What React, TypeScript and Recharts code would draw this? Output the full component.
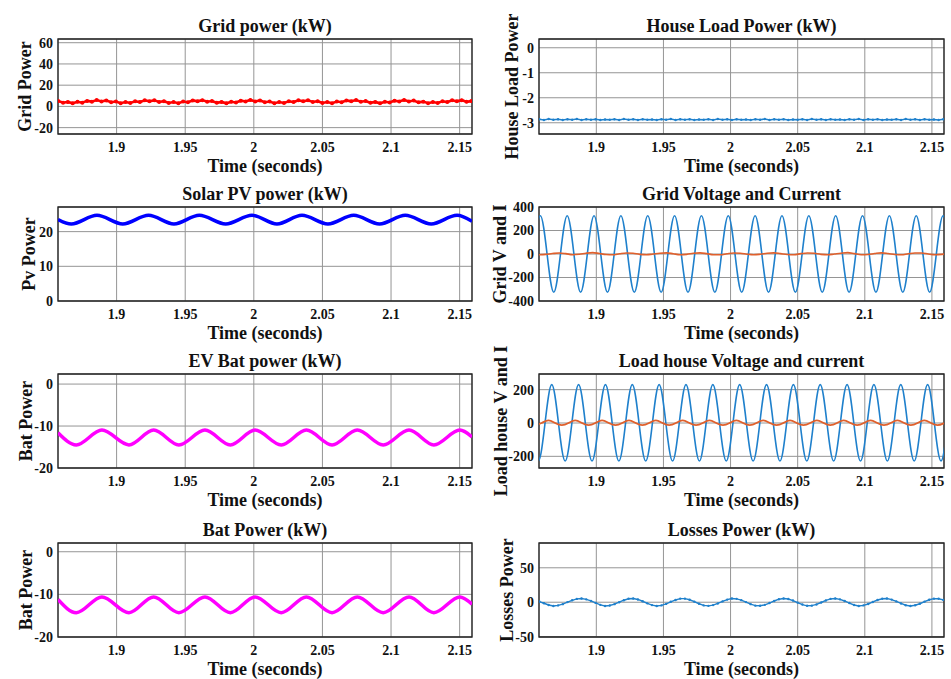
import React from 'react';
import { LineChart, Line, XAxis, YAxis, CartesianGrid, ReferenceArea, Label } from 'recharts';

const FONT = '"Liberation Serif", "Times New Roman", serif';
const X_DOMAIN: [number, number] = [1.8573, 2.159];
const timeTicks = [1.9, 1.95, 2, 2.05, 2.1, 2.15];

// sampled (ripple) series: sample instants start + step
const RIPPLE_T0 = 1.8575;
const RIPPLE_DT = 0.0035;

const gridPower = [5.0,3.5,4.2,2.9,4.3,3.5,5.2,4.5,6.0,4.7,5.6,3.9,4.6,3.0,4.1,3.2,4.8,4.1,5.8,4.8,5.8,4.2,4.9,3.2,4.1,3.0,4.6,3.9,5.6,4.8,5.9,4.4,5.1,3.4,4.2,2.9,4.4,3.7,5.4,4.6,6.1,4.7,5.6,3.9,4.6,3.0,4.1,3.2,4.8,4.1,5.8,4.8,5.8,4.2,4.9,3.2,4.1,3.0,4.6,3.9,5.6,4.8,6.0,4.4,5.1,3.4,4.2,2.9,4.4,3.7,5.4,4.6,6.1,4.7,5.5,3.8,4.5,3.0,4.1,3.2,4.8,4.1,5.8,4.8,5.9,4.3,5.0];

const houseLoadPower = [-2.86,-2.89,-2.85,-2.88,-2.86,-2.89,-2.86,-2.88,-2.85,-2.89,-2.86,-2.88,-2.86,-2.89,-2.87,-2.88,-2.86,-2.89,-2.85,-2.88,-2.86,-2.89,-2.86,-2.88,-2.87,-2.89,-2.86,-2.88,-2.85,-2.89,-2.86,-2.88,-2.86,-2.89,-2.87,-2.88,-2.86,-2.89,-2.85,-2.88,-2.86,-2.89,-2.86,-2.88,-2.87,-2.89,-2.86,-2.88,-2.85,-2.89,-2.86,-2.88,-2.86,-2.89,-2.87,-2.88,-2.86,-2.89,-2.85,-2.88,-2.86,-2.89,-2.86,-2.88,-2.87,-2.89,-2.86,-2.88,-2.85,-2.89,-2.86,-2.88,-2.86,-2.89,-2.87,-2.88,-2.86,-2.89,-2.85,-2.88,-2.86,-2.89,-2.86,-2.88,-2.87,-2.89,-2.86];

const lossesPower = [1.0,-1.5,-4.0,-5.4,-4.6,-2.8,0.2,2.8,4.8,5.4,4.2,2.0,-1.0,-3.8,-5.4,-4.8,-2.8,0.0,2.9,5.0,5.3,4.0,1.4,-1.6,-4.2,-5.4,-4.6,-2.4,0.6,3.3,5.2,5.2,3.6,0.8,-2.2,-4.6,-5.3,-4.2,-1.8,1.2,3.8,5.4,4.9,3.0,0.2,-2.8,-5.0,-5.2,-3.8,-1.2,1.8,4.4,5.4,4.6,2.4,-0.6,-3.4,-5.2,-5.0,-3.2,-0.4,2.6,4.8,5.4,4.2,1.8,-1.2,-4.0,-5.4,-4.6,-2.6,0.4,3.2,5.0,5.3,3.8,1.2,-1.8,-4.4,-5.4,-4.4,-2.2,0.8,3.6,5.2,5.1,3.4];

const pvPower: [number, number][] = [[1.8573,23.5],[1.867,22.2],[1.8857,24.7],[1.9045,22.2],[1.9233,24.7],[1.9418,22.2],[1.9603,24.7],[1.9795,22.2],[1.9987,24.7],[2.0169,22.2],[2.0351,24.7],[2.054,22.2],[2.0728,24.7],[2.0916,22.2],[2.1104,24.7],[2.1293,22.2],[2.1481,24.7],[2.159,23.0]];

const evBatPower: [number, number][] = [[1.8573,-11.6],[1.8706,-14.5],[1.8893,-10.95],[1.909,-14.5],[1.927,-10.95],[1.9454,-14.5],[1.9644,-10.95],[1.9829,-14.5],[2.0009,-10.95],[2.02,-14.5],[2.0383,-10.95],[2.057,-14.5],[2.0754,-10.95],[2.0943,-14.5],[2.1131,-10.95],[2.1312,-14.5],[2.1502,-10.95],[2.159,-12.6]];

const batPower: [number, number][] = [[1.8573,-11.2],[1.8706,-14.3],[1.8893,-10.6],[1.909,-14.3],[1.927,-10.6],[1.9454,-14.3],[1.9644,-10.6],[1.9829,-14.3],[2.0009,-10.6],[2.02,-14.3],[2.0383,-10.6],[2.057,-14.3],[2.0754,-10.6],[2.0943,-14.3],[2.1131,-10.6],[2.1312,-14.3],[2.1502,-10.6],[2.159,-12.3]];

const gridVoltage: [number, number][] = [[1.8533,0],[1.8583,325],[1.8633,0],[1.8683,-325],[1.8733,0],[1.8783,325],[1.8833,0],[1.8883,-325],[1.8933,0],[1.8983,325],[1.9033,0],[1.9083,-325],[1.9133,0],[1.9183,325],[1.9233,0],[1.9283,-325],[1.9333,0],[1.9383,325],[1.9433,0],[1.9483,-325],[1.9533,0],[1.9583,325],[1.9633,0],[1.9683,-325],[1.9733,0],[1.9783,325],[1.9833,0],[1.9883,-325],[1.9933,0],[1.9983,325],[2.0033,0],[2.0083,-325],[2.0133,0],[2.0183,325],[2.0233,0],[2.0283,-325],[2.0333,0],[2.0383,325],[2.0433,0],[2.0483,-325],[2.0533,0],[2.0583,325],[2.0633,0],[2.0683,-325],[2.0733,0],[2.0783,325],[2.0833,0],[2.0883,-325],[2.0933,0],[2.0983,325],[2.1033,0],[2.1083,-325],[2.1133,0],[2.1183,325],[2.1233,0],[2.1283,-325],[2.1333,0],[2.1383,325],[2.1433,0],[2.1483,-325],[2.1533,0],[2.1583,325],[2.1633,0]];

const gridCurrent: [number, number][] = [[1.8573,-7],[1.8623,-3],[1.8673,4],[1.8723,9],[1.8773,3],[1.8823,-6],[1.8873,-2],[1.8923,7],[1.8973,12],[1.9023,4],[1.9073,-4],[1.9123,-7],[1.9173,2],[1.9223,9],[1.9273,6],[1.9323,-3],[1.9373,-7],[1.9423,0],[1.9473,7],[1.9523,10],[1.9573,2],[1.9623,-6],[1.9673,-3],[1.9723,6],[1.9773,10],[1.9823,3],[1.9873,-6],[1.9923,-7],[1.9973,2],[2.0023,9],[2.0073,7],[2.0123,-2],[2.0173,-7],[2.0223,-2],[2.0273,6],[2.0323,10],[2.0373,3],[2.0423,-4],[2.0473,-6],[2.0523,3],[2.0573,9],[2.0623,6],[2.0673,-3],[2.0723,-7],[2.0773,0],[2.0823,7],[2.0873,12],[2.0923,3],[2.0973,-6],[2.1023,-4],[2.1073,4],[2.1123,10],[2.1173,4],[2.1223,-4],[2.1273,-7],[2.1323,2],[2.1373,9],[2.1423,9],[2.1473,0],[2.1523,-6],[2.1573,-3],[2.1623,3]];

const loadVoltage: [number, number][] = [[1.8518,0],[1.8568,-228],[1.8618,0],[1.8668,230],[1.8718,0],[1.8768,-228],[1.8818,0],[1.8868,230],[1.8918,0],[1.8968,-228],[1.9018,0],[1.9068,230],[1.9118,0],[1.9168,-228],[1.9218,0],[1.9268,230],[1.9318,0],[1.9368,-228],[1.9418,0],[1.9468,230],[1.9518,0],[1.9568,-228],[1.9618,0],[1.9668,230],[1.9718,0],[1.9768,-228],[1.9818,0],[1.9868,230],[1.9918,0],[1.9968,-228],[2.0018,0],[2.0068,230],[2.0118,0],[2.0168,-228],[2.0218,0],[2.0268,230],[2.0318,0],[2.0368,-228],[2.0418,0],[2.0468,230],[2.0518,0],[2.0568,-228],[2.0618,0],[2.0668,230],[2.0718,0],[2.0768,-228],[2.0818,0],[2.0868,230],[2.0918,0],[2.0968,-228],[2.1018,0],[2.1068,230],[2.1118,0],[2.1168,-228],[2.1218,0],[2.1268,230],[2.1318,0],[2.1368,-228],[2.1418,0],[2.1468,230],[2.1518,0],[2.1568,-228],[2.1618,0]];

const loadCurrent: [number, number][] = [[1.8543,-13],[1.8593,0],[1.8643,16],[1.8693,0],[1.8743,-13],[1.8793,0],[1.8843,16],[1.8893,0],[1.8943,-13],[1.8993,0],[1.9043,16],[1.9093,0],[1.9143,-13],[1.9193,0],[1.9243,16],[1.9293,0],[1.9343,-13],[1.9393,0],[1.9443,16],[1.9493,0],[1.9543,-13],[1.9593,0],[1.9643,16],[1.9693,0],[1.9743,-13],[1.9793,0],[1.9843,16],[1.9893,0],[1.9943,-13],[1.9993,0],[2.0043,16],[2.0093,0],[2.0143,-13],[2.0193,0],[2.0243,16],[2.0293,0],[2.0343,-13],[2.0393,0],[2.0443,16],[2.0493,0],[2.0543,-13],[2.0593,0],[2.0643,16],[2.0693,0],[2.0743,-13],[2.0793,0],[2.0843,16],[2.0893,0],[2.0943,-13],[2.0993,0],[2.1043,16],[2.1093,0],[2.1143,-13],[2.1193,0],[2.1243,16],[2.1293,0],[2.1343,-13],[2.1393,0],[2.1443,16],[2.1493,0],[2.1543,-13],[2.1593,0],[2.1643,16]];

const BLUE = '#1f80cc';
const ORANGE = '#e0602c';

type Pt = { t: number; v: number };
const fromPairs = (a: [number, number][]): Pt[] => a.map(([t, v]) => ({ t, v }));
const fromSamples = (a: number[]): Pt[] => a.map((v, i) => ({ t: RIPPLE_T0 + i * RIPPLE_DT, v }));

type Series = { data: Pt[]; color: string; width: number; curve: 'linear' | 'monotone' | 'natural'; dot?: number };

type PanelProps = {
  col: 0 | 1;
  top: number;
  bottom: number;
  title: string;
  yLabel: string;
  yLabelBaseline: number;
  yDomain: [number, number];
  yTicks: number[];
  series: Series[];
};

const textStyle = { fontFamily: FONT, fontWeight: 700 as const, fill: '#111' };

function Panel({ col, top, bottom, title, yLabel, yLabelBaseline, yDomain, yTicks, series }: PanelProps) {
  const colLeft = col === 0 ? 0 : 475;
  const plotLeft = col === 0 ? 58 : 539;
  const plotRight = col === 0 ? 472 : 944;
  const width = col === 0 ? 480 : 476;
  const MT = 40;
  const XH = 50;
  const plotH = bottom - top;
  const plotW = plotRight - plotLeft;
  const height = plotH + MT + XH;
  const yAxisW = plotLeft - colLeft;
  const cx = yAxisW + plotW / 2;
  const ly = MT + plotH / 2;
  const lx = yLabelBaseline - colLeft;
  return (
    <div style={{ position: 'absolute', left: colLeft, top: top - MT }}>
      <LineChart width={width} height={height} margin={{ top: MT, right: width - (plotRight - colLeft), bottom: 0, left: 0 }}>
        <CartesianGrid stroke="#959595" strokeWidth={1} />
        <XAxis
          type="number"
          dataKey="t"
          domain={X_DOMAIN}
          ticks={timeTicks}
          allowDataOverflow
          interval={0}
          height={XH}
          tickSize={0}
          tickMargin={8}
          axisLine={false}
          tickLine={false}
          tick={{ ...textStyle, fontSize: 14 }}
        >
          <Label
            content={() => (
              <g>
                <text x={cx} y={MT + plotH + 38} textAnchor="middle" style={{ ...textStyle, fontSize: 18 }} fill="#111">
                  Time (seconds)
                </text>
                <text x={cx} y={MT - 7.5} textAnchor="middle" style={{ ...textStyle, fontSize: 18 }} fill="#111">
                  {title}
                </text>
              </g>
            )}
          />
        </XAxis>
        <YAxis
          type="number"
          domain={yDomain}
          ticks={yTicks}
          allowDataOverflow
          interval={0}
          width={yAxisW}
          tickSize={0}
          tickMargin={5}
          axisLine={false}
          tickLine={false}
          tick={{ ...textStyle, fontSize: 14 }}
        >
          <Label
            content={() => (
              <text
                x={lx}
                y={ly}
                transform={`rotate(-90 ${lx} ${ly})`}
                textAnchor="middle"
                style={{ ...textStyle, fontSize: 18 }}
                fill="#111"
              >
                {yLabel}
              </text>
            )}
          />
        </YAxis>
        {series.map((s, i) => (
          <Line
            key={i}
            data={s.data}
            dataKey="v"
            type={s.curve}
            stroke={s.color}
            strokeWidth={s.width}
            dot={s.dot ? { r: s.dot, fill: s.color, stroke: 'none' } : false}
            activeDot={false}
            isAnimationActive={false}
          />
        ))}
        <ReferenceArea
          x1={X_DOMAIN[0]}
          x2={X_DOMAIN[1]}
          y1={yDomain[0]}
          y2={yDomain[1]}
          fill="none"
          fillOpacity={0}
          stroke="#222"
          strokeWidth={1.3}
          ifOverflow="visible"
        />
      </LineChart>
    </div>
  );
}

export default function App() {
  return (
    <div style={{ position: 'absolute', left: 0, top: 0, width: 951, height: 679, background: '#fff', overflow: 'hidden' }}>
      <Panel col={0} top={39} bottom={134} title="Grid power (kW)" yLabel="Grid Power" yLabelBaseline={30.5}
        yDomain={[-26, 63.5]} yTicks={[-20, 0, 20, 40, 60]}
        series={[{ data: fromSamples(gridPower), color: '#ff0000', width: 2.6, curve: 'linear', dot: 2 }]} />
      <Panel col={1} top={39} bottom={134} title="House Load Power (kW)" yLabel="House Load Power" yLabelBaseline={518}
        yDomain={[-3.45, 0.35]} yTicks={[-3, -2, -1, 0]}
        series={[{ data: fromSamples(houseLoadPower), color: BLUE, width: 1.6, curve: 'linear', dot: 1.2 }]} />
      <Panel col={0} top={207} bottom={301} title="Solar PV power (kW)" yLabel="Pv Power" yLabelBaseline={35}
        yDomain={[0, 27.1]} yTicks={[0, 10, 20]}
        series={[{ data: fromPairs(pvPower), color: '#0000ff', width: 3.5, curve: 'monotone' }]} />
      <Panel col={1} top={207} bottom={301} title="Grid Voltage and Current" yLabel="Grid V and I" yLabelBaseline={505.7}
        yDomain={[-400, 400]} yTicks={[-400, -200, 0, 200, 400]}
        series={[
          { data: fromPairs(gridVoltage), color: BLUE, width: 1.6, curve: 'natural' },
          { data: fromPairs(gridCurrent), color: ORANGE, width: 1.6, curve: 'monotone' },
        ]} />
      <Panel col={0} top={374} bottom={468} title="EV Bat power (kW)" yLabel="Bat Power" yLabelBaseline={31.7}
        yDomain={[-20, 2.4]} yTicks={[-20, -10, 0]}
        series={[{ data: fromPairs(evBatPower), color: '#ff00ff', width: 3.5, curve: 'monotone' }]} />
      <Panel col={1} top={374} bottom={468} title="Load house Voltage and current" yLabel="Load house V and I" yLabelBaseline={506.7}
        yDomain={[-270, 294]} yTicks={[-200, 0, 200]}
        series={[
          { data: fromPairs(loadVoltage), color: BLUE, width: 1.6, curve: 'natural' },
          { data: fromPairs(loadCurrent), color: ORANGE, width: 1.8, curve: 'natural' },
        ]} />
      <Panel col={0} top={543} bottom={637} title="Bat Power (kW)" yLabel="Bat Power" yLabelBaseline={31.7}
        yDomain={[-20, 2.05]} yTicks={[-20, -10, 0]}
        series={[{ data: fromPairs(batPower), color: '#ff00ff', width: 3.5, curve: 'monotone' }]} />
      <Panel col={1} top={543} bottom={637} title="Losses Power (kW)" yLabel="Losses Power" yLabelBaseline={513.3}
        yDomain={[-50.5, 86]} yTicks={[-50, 0, 50]}
        series={[{ data: fromSamples(lossesPower), color: BLUE, width: 1.4, curve: 'linear', dot: 1.2 }]} />
    </div>
  );
}
